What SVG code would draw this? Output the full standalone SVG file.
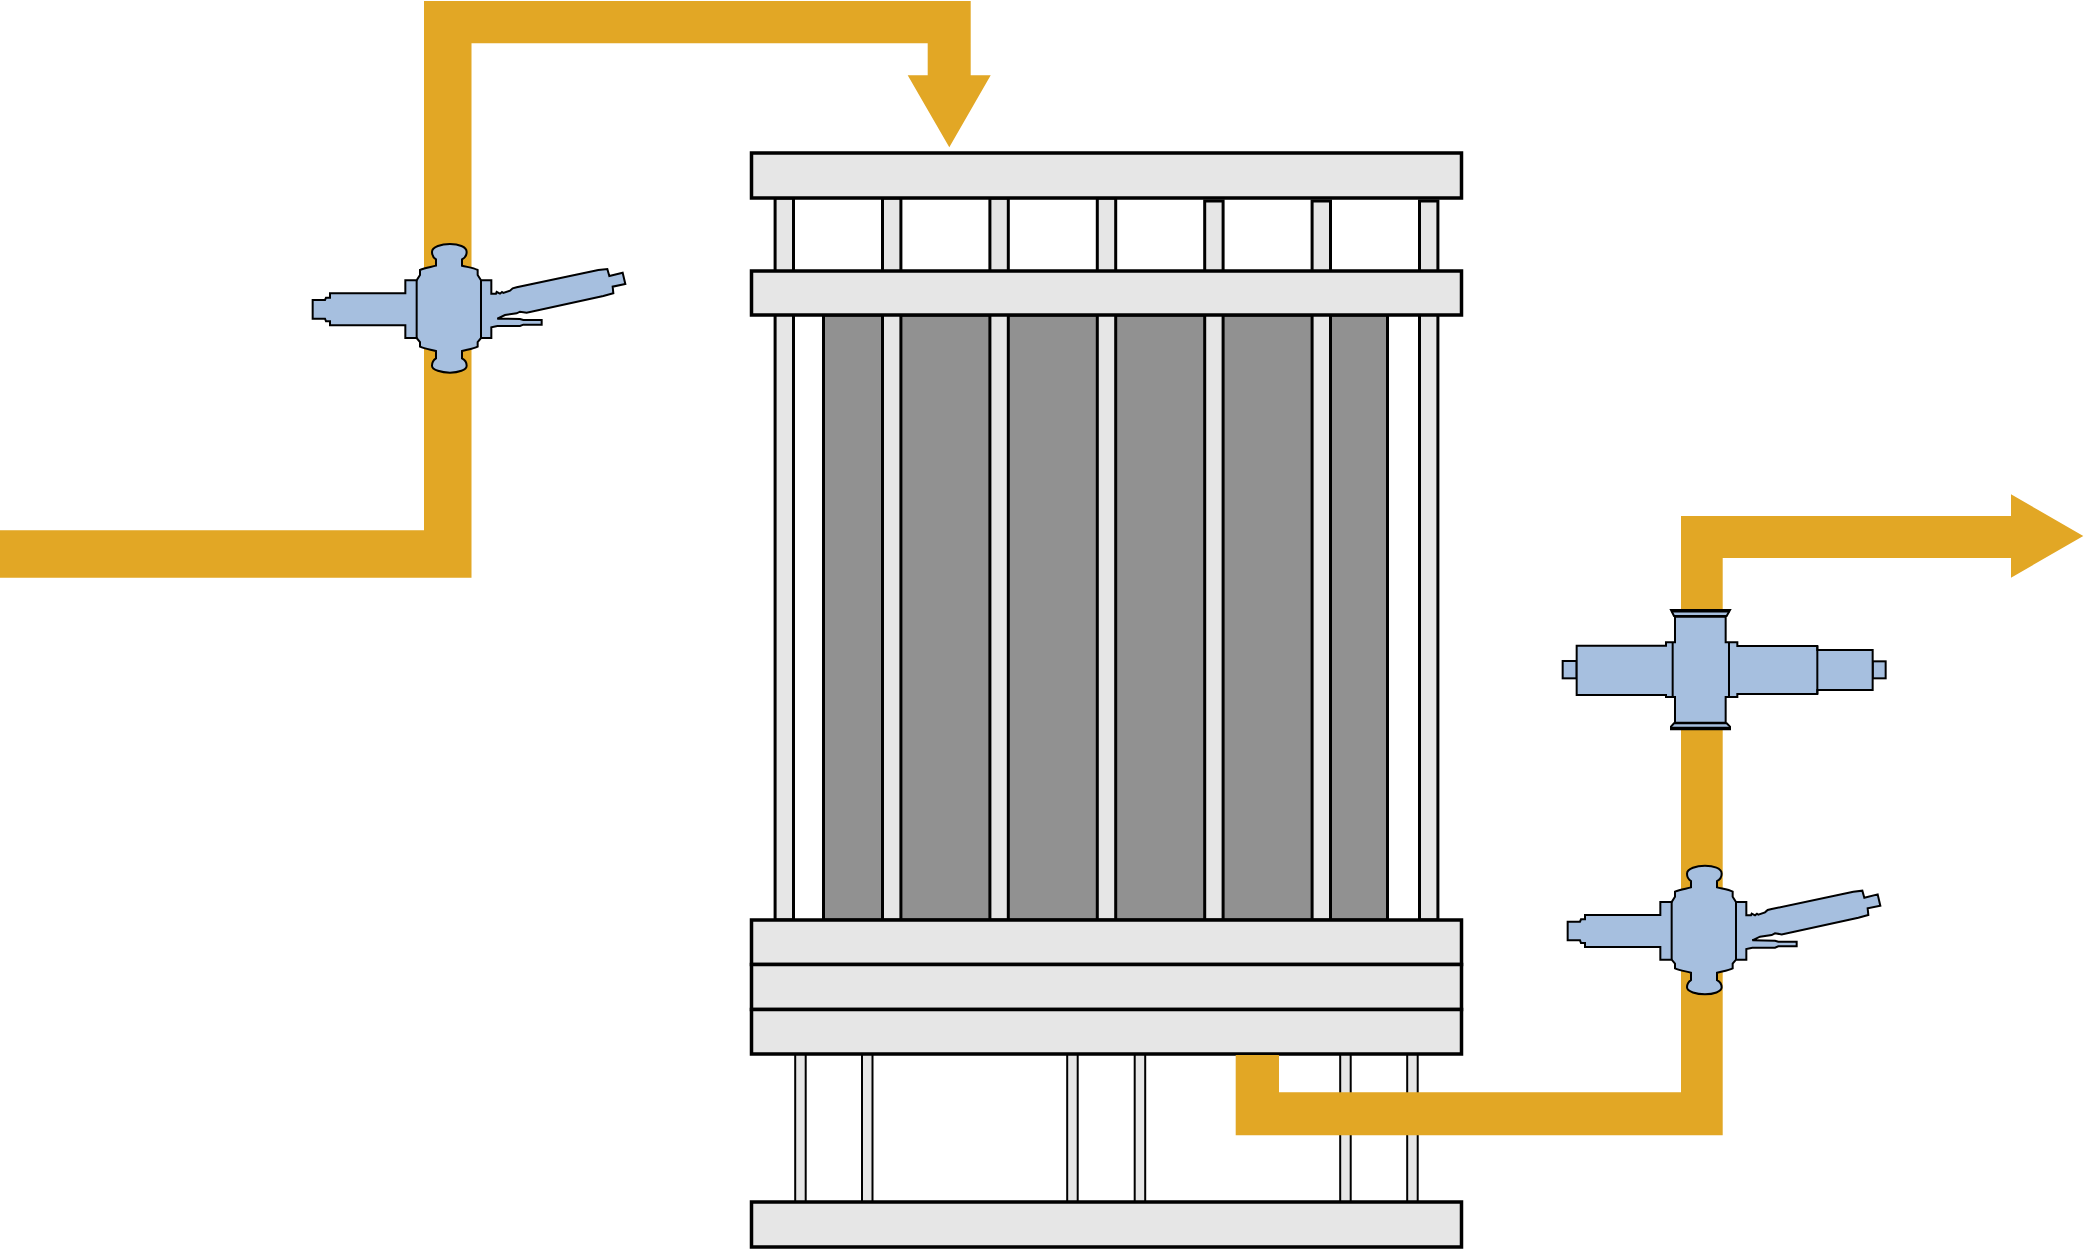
<svg xmlns="http://www.w3.org/2000/svg" xmlns:xlink="http://www.w3.org/1999/xlink" width="2084" height="1249" viewBox="0 0 2084 1249">
<style>
.plate{fill:#e6e6e6;stroke:#000;stroke-width:3.5}
.rod{fill:#e6e6e6;stroke:#000;stroke-width:3}
.thin{fill:#e6e6e6;stroke:#000;stroke-width:2}
.panel{fill:#919191;stroke:#000;stroke-width:3}
.pipe{fill:#e2a725}
.v{fill:#a6bfdf;stroke:#000;stroke-width:6;stroke-linejoin:miter}
.l{fill:none;stroke:#000;stroke-width:6}
.f{fill:none;stroke:#000;stroke-width:9}
</style>
<defs>
<g id="valve-a">
<path class="v" d="M68 240H105L108 233H120V220H346V181H380L390 165V150C405 143 425 141 438 137V118C430 113 426 105 426 96C426 80 455 72 480 72C505 72 530 80 530 96C530 105 526 113 516 118V137C530 141 550 143 563 150V165L573 181H604V221H618L620 216L630 221L636 216L640 219L660 212L668 205L680 202L925 150L952 147L958 168L998 158L1006 192L968 200L970 220L940 228L710 278L690 275L680 280L645 285L622 296L690 297L700 300H755V314H700L690 318H622L604 322V354H573L563 366V380C550 387 530 389 516 393V415C526 420 530 428 530 437C530 450 505 458 480 458C455 458 426 450 426 437C426 428 430 420 438 415V393C425 389 405 387 390 380V366L380 354H346V316H120V304H108L105 296H68Z"/>
<path class="l" d="M380 181V354M573 181V354"/>
</g>
</defs>
<g id="lower-rods">
<rect class="thin" x="795.2" y="1054" width="10.5" height="148"/>
<rect class="thin" x="862" y="1054" width="10.5" height="148"/>
<rect class="thin" x="1067.2" y="1054" width="10.5" height="148"/>
<rect class="thin" x="1134.7" y="1054" width="10.5" height="148"/>
<rect class="thin" x="1340.2" y="1054" width="10.5" height="148"/>
<rect class="thin" x="1407.2" y="1054" width="10.5" height="148"/>
</g>
<g id="panels"><rect class="panel" x="823.5" y="315" width="564" height="605"/></g>
<g id="rods">
<rect class="rod" x="775.1" y="198" width="18.4" height="722"/>
<rect class="rod" x="882.5" y="198" width="18.4" height="722"/>
<rect class="rod" x="989.9" y="198" width="18.4" height="722"/>
<rect class="rod" x="1097.3" y="198" width="18.4" height="722"/>
<rect class="rod" x="1204.7" y="201" width="18.4" height="719"/>
<rect class="rod" x="1312.1" y="201" width="18.4" height="719"/>
<rect class="rod" x="1419.5" y="201" width="18.4" height="719"/>
</g>
<g id="plates">
<rect class="plate" x="751.5" y="153" width="710" height="45"/>
<rect class="plate" x="751.5" y="271" width="710" height="44"/>
<rect class="plate" x="751.5" y="920" width="710" height="44.5"/>
<rect class="plate" x="751.5" y="964.5" width="710" height="45"/>
<rect class="plate" x="751.5" y="1009.5" width="710" height="44.5"/>
<rect class="plate" x="751.5" y="1202" width="710" height="45"/>
</g>
<g id="connectors">
<polygon class="pipe" points="0,530.3 424,530.3 424,1 970.7,1 970.7,75.3 990.7,75.3 949.3,147.3 907.7,75.3 927.7,75.3 927.7,43.3 471.5,43.3 471.5,577.7 0,577.7"/>
<polygon class="pipe" points="1235.7,1055 1279,1055 1279,1092.3 1681,1092.3 1681,516 2011,516 2011,494.3 2083.3,536 2011,577.7 2011,558 1722.7,558 1722.7,1135.3 1235.7,1135.3"/>
</g>
<g id="valve-1" transform="translate(290 220) scale(.33333)"><use xlink:href="#valve-a" href="#valve-a"/></g>
<g id="valve-2" transform="translate(1545 841.7) scale(.33333)"><use xlink:href="#valve-a" href="#valve-a"/></g>
<g id="valve-3" transform="translate(1540 590) scale(.33333)">
<rect class="v" x="68" y="213" width="42" height="52"/>
<rect class="v" x="998" y="214" width="39" height="51"/>
<path class="v" d="M110 167H378V157H405V80H557V157H592V168H832V180H998V300H832V312H592V321H557V398H405V321H378V315H110Z"/>
<path class="l" d="M398 157V321M567 157V321M832 168V312"/>
<path class="v" d="M393 60H570L560 78H402Z"/>
<path class="v" d="M402 400H560L570 410V418H393V410Z"/>
<path class="f" d="M394 63H569M394 415H569"/>
</g>
</svg>
